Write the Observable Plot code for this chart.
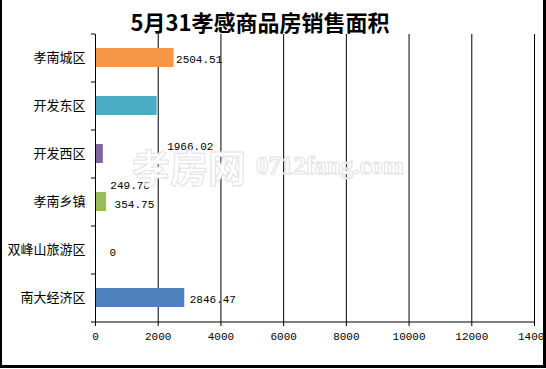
<!DOCTYPE html>
<html><head><meta charset="utf-8">
<script src="https://cdn.jsdelivr.net/npm/d3@7"></script>
<script src="https://cdn.jsdelivr.net/npm/@observablehq/plot@0.6"></script>
<style>
html,body{margin:0;padding:0;background:#fff;}
#wrap{position:relative;width:546px;height:369px;overflow:hidden;background:#fff;}
#title{height:33px;position:relative;}
#title span{position:absolute;left:0;width:520px;top:7px;line-height:28px;text-align:center;font-family:"Noto Sans CJK SC",sans-serif;font-weight:700;font-size:22px;color:#000;}
#chart svg{display:block;}
#wm1,#wm2{position:absolute;color:#fff;-webkit-text-stroke:1px #e2e2e2;pointer-events:none;white-space:nowrap;}
#wm1{left:132px;top:141px;font-family:"Noto Sans CJK SC",sans-serif;font-weight:700;font-size:38px;line-height:50px;}
#wm2{left:256px;top:151px;font-family:"Liberation Serif",serif;font-weight:700;font-size:25px;line-height:30px;}
#border{position:absolute;left:0;top:0;width:541px;height:365px;border-left:2px solid #000;border-right:3px solid #000;border-bottom:3px solid #000;pointer-events:none;}
</style></head>
<body>
<div id="wrap">
  <div id="title"><span></span></div>
  <div id="chart"></div>
  <div id="wm1">孝房网</div>
  <div id="wm2">0712fang.com</div>
  <div id="border"></div>
</div>
<script>
const titleText = "5月31孝感商品房销售面积";
const categories = ["孝南城区", "开发东区", "开发西区", "孝南乡镇", "双峰山旅游区", "南大经济区"];
const values = [2504.51, 1966.02, 249.78, 354.75, 0, 2846.47];
const valueLabels = ["2504.51", "1966.02", "249.78", "354.75", "0", "2846.47"];
const colors = ["#F79646", "#4BACC6", "#8064A2", "#9BBB59", "#C0504D", "#4F81BD"];
const xTicks = [0, 2000, 4000, 6000, 8000, 10000, 12000, 14000];

document.querySelector("#title span").textContent = titleText;

const data = categories.map((c, i) => ({cat: c, value: values[i], label: valueLabels[i]}));
// label offsets (px) as they appear in the reference
const nudges = [[2, 1], [10, 40], [7, 31], [8, 2], [14, 2], [5, 1]];

const W = 546, H = 336, mL = 95, mR = 12, mT = 1, mB = 47;
const xMax = 14000;
const k = (W - mL - mR) / xMax;
const step = (H - mT - mB) / categories.length;
const tickLen = 4 / k;

const plot = Plot.plot({
  width: W, height: H,
  marginLeft: mL, marginRight: mR, marginTop: mT, marginBottom: mB,
  style: {fontFamily: "Liberation Mono, monospace", fontSize: "11px", color: "#000", background: "transparent", overflow: "visible"},
  x: {domain: [0, xMax], ticks: xTicks, tickFormat: d => String(d), tickSize: 4, tickPadding: 6, label: null},
  y: {domain: categories, paddingInner: 0.6, paddingOuter: 0.3, axis: null},
  color: {domain: categories, range: colors},
  marks: [
    Plot.ruleX(xTicks.filter(d => d > 0), {stroke: "#000"}),
    Plot.barX(data, {y: "cat", x: "value", fill: "cat"}),
    Plot.ruleX([0], {stroke: "#000"}),
    Plot.ruleY(categories, {dy: -step / 2, x1: -tickLen, x2: 0, stroke: "#000"}),
    Plot.ruleY([categories[categories.length - 1]], {dy: step / 2, x1: -tickLen, x2: xMax, stroke: "#000"}),
    Plot.text(categories, {y: d => d, frameAnchor: "left", textAnchor: "end", dx: -10, fontSize: 13, fontFamily: "Noto Sans CJK SC, sans-serif", fill: "#000"}),
    ...data.map((d, i) => Plot.text([d], {x: "value", y: "cat", text: "label", textAnchor: "start", dx: nudges[i][0], dy: nudges[i][1], fill: "#000"}))
  ]
});
document.getElementById("chart").appendChild(plot);
</script>
</body></html>
